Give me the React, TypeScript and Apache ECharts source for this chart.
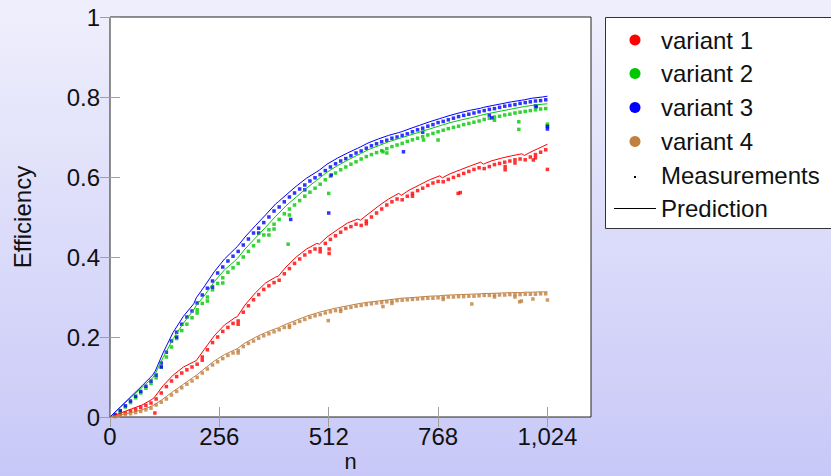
import React, { useEffect, useRef } from "react";
import * as echarts from "echarts";

const xTicks = [0, 256, 512, 768, 1024];
const yTicks = [0, 0.2, 0.4, 0.6, 0.8, 1];
const variantNames = ["variant 1", "variant 2", "variant 3", "variant 4"];
const variantColors = ["#ff0000", "#00c800", "#0000ff", "#bf8040"];
const legendExtra = ["Measurements", "Prediction"];

// prediction curves
const predN = [0,25,50,75,100,106,124,148,172,196,202,220,244,268,292,298,316,340,364,388,394,412,436,460,484,490,508,532,556,580,586,604,628,652,676,682,700,724,748,772,778,796,820,844,868,874,892,916,940,964,970,988,1012,1024];
const pred1 = [0,0.01,0.02,0.03,0.045,0.052,0.078,0.105,0.125,0.138,0.141,0.168,0.203,0.23,0.248,0.251,0.28,0.31,0.335,0.35,0.352,0.375,0.4,0.42,0.434,0.432,0.45,0.468,0.485,0.495,0.492,0.507,0.527,0.545,0.559,0.554,0.567,0.58,0.593,0.603,0.598,0.608,0.618,0.628,0.637,0.632,0.64,0.647,0.653,0.658,0.654,0.664,0.676,0.682];
const pred2 = [0,0.025,0.05,0.074,0.098,0.108,0.148,0.196,0.235,0.268,0.279,0.302,0.338,0.368,0.39,0.396,0.42,0.447,0.474,0.502,0.508,0.528,0.55,0.572,0.592,0.597,0.612,0.628,0.642,0.655,0.658,0.668,0.678,0.688,0.696,0.698,0.704,0.712,0.72,0.728,0.73,0.736,0.742,0.748,0.754,0.756,0.76,0.765,0.77,0.775,0.776,0.779,0.782,0.783];
const pred3 = [0,0.026,0.052,0.078,0.105,0.115,0.16,0.212,0.252,0.283,0.298,0.325,0.363,0.395,0.42,0.426,0.45,0.478,0.505,0.533,0.538,0.555,0.577,0.597,0.613,0.617,0.632,0.647,0.66,0.672,0.675,0.685,0.695,0.704,0.711,0.713,0.72,0.729,0.738,0.746,0.748,0.754,0.761,0.767,0.772,0.774,0.778,0.783,0.788,0.792,0.793,0.797,0.8,0.802];
const pred4 = [0,0.005,0.011,0.018,0.028,0.032,0.045,0.064,0.082,0.1,0.104,0.12,0.14,0.156,0.168,0.171,0.185,0.199,0.211,0.221,0.223,0.232,0.242,0.252,0.26,0.262,0.267,0.273,0.278,0.283,0.284,0.287,0.29,0.293,0.296,0.297,0.298,0.3,0.302,0.303,0.304,0.305,0.306,0.307,0.308,0.309,0.309,0.31,0.311,0.311,0.312,0.312,0.313,0.313];

// measurements
const measN = [12,24,36,48,60,72,84,96,108,120,132,144,156,168,180,192,204,216,228,240,252,264,276,288,300,312,324,336,348,360,372,384,396,408,420,432,444,456,468,480,492,504,516,528,540,552,564,576,588,600,612,624,636,648,660,672,684,696,708,720,732,744,756,768,780,792,804,816,828,840,852,864,876,888,900,912,924,936,948,960,972,984,996,1008,1020];
const meas1 = [0.003,0.006,0.01,0.015,0.019,0.024,0.029,0.035,0.045,0.06,0.076,0.09,0.101,0.11,0.118,0.125,0.132,0.15,0.168,0.186,0.2,0.214,0.224,0.234,0.24,0.262,0.278,0.293,0.306,0.319,0.328,0.336,0.342,0.358,0.371,0.384,0.395,0.405,0.413,0.42,0.421,0.434,0.444,0.453,0.462,0.471,0.476,0.482,0.479,0.49,0.5,0.51,0.52,0.53,0.538,0.545,0.543,0.552,0.559,0.566,0.572,0.579,0.585,0.589,0.588,0.594,0.599,0.604,0.609,0.614,0.619,0.623,0.621,0.626,0.631,0.634,0.637,0.64,0.643,0.645,0.643,0.65,0.656,0.662,0.668];
const meas2 = [0.004,0.014,0.025,0.036,0.048,0.06,0.072,0.084,0.098,0.125,0.15,0.175,0.196,0.216,0.232,0.248,0.268,0.284,0.3,0.318,0.334,0.348,0.362,0.373,0.384,0.4,0.414,0.428,0.44,0.455,0.468,0.482,0.494,0.508,0.52,0.53,0.541,0.552,0.562,0.572,0.582,0.593,0.602,0.61,0.618,0.625,0.632,0.638,0.645,0.651,0.656,0.661,0.666,0.671,0.676,0.68,0.684,0.689,0.693,0.697,0.701,0.705,0.709,0.713,0.717,0.721,0.724,0.727,0.731,0.734,0.737,0.74,0.744,0.747,0.75,0.752,0.755,0.757,0.76,0.762,0.764,0.766,0.768,0.77,0.771];
const meas3 = [0.006,0.016,0.028,0.04,0.052,0.064,0.077,0.09,0.105,0.135,0.162,0.19,0.212,0.232,0.25,0.265,0.285,0.305,0.322,0.34,0.36,0.375,0.39,0.402,0.414,0.43,0.445,0.46,0.472,0.486,0.5,0.515,0.525,0.538,0.55,0.56,0.57,0.58,0.59,0.598,0.606,0.616,0.625,0.633,0.64,0.646,0.653,0.66,0.665,0.672,0.678,0.683,0.688,0.692,0.697,0.7,0.704,0.708,0.713,0.718,0.722,0.727,0.731,0.736,0.739,0.743,0.747,0.751,0.754,0.757,0.76,0.763,0.766,0.769,0.771,0.774,0.777,0.779,0.781,0.784,0.786,0.788,0.79,0.791,0.793];
const meas4 = [0.001,0.003,0.006,0.008,0.011,0.014,0.018,0.022,0.03,0.037,0.045,0.055,0.064,0.073,0.082,0.09,0.099,0.11,0.12,0.13,0.138,0.146,0.154,0.16,0.166,0.176,0.184,0.19,0.197,0.203,0.208,0.213,0.218,0.224,0.229,0.234,0.239,0.244,0.249,0.253,0.256,0.26,0.263,0.266,0.269,0.272,0.274,0.277,0.279,0.281,0.283,0.285,0.286,0.288,0.289,0.291,0.292,0.293,0.294,0.295,0.296,0.297,0.297,0.298,0.299,0.3,0.3,0.301,0.301,0.302,0.302,0.303,0.304,0.304,0.305,0.305,0.305,0.306,0.306,0.306,0.307,0.307,0.307,0.308,0.308];

// extra (repeated / outlying) measurements
const extra1 = [[105,0.01],[216,0.142],[300,0.232],[492,0.413],[513,0.409],[513,0.42],[600,0.483],[708,0.552],[815,0.559],[820,0.561],[925,0.626],[925,0.618],[948,0.635],[991,0.6425],[996,0.648],[1024,0.619]];
const extra2 = [[204,0.26],[228,0.29],[264,0.335],[372,0.455],[384,0.47],[417,0.432],[420,0.505],[512,0.559],[639,0.663],[648,0.66],[734,0.6925],[768,0.6925],[900,0.742],[957,0.738],[957,0.719],[1024,0.728],[1024,0.732]];
const extra3 = [[120,0.125],[156,0.2],[240,0.325],[348,0.46],[423,0.494],[456,0.568],[512,0.51],[518,0.605],[687,0.663],[732,0.712],[888,0.755],[894,0.748],[996,0.778],[998,0.776],[1024,0.726],[1024,0.72]];
const extra4 = [[300,0.16],[420,0.224],[511,0.241],[540,0.264],[639,0.276],[660,0.284],[780,0.294],[847,0.2825],[900,0.3],[948,0.3],[959,0.288],[963,0.29],[990,0.295],[1024,0.2925]];

const FONT = "Liberation Sans";
const TEXT = "#111111";

export default function App() {
  const ref = useRef<HTMLDivElement>(null);
  useEffect(() => {
    if (!ref.current) return;
    const chart = echarts.init(ref.current, undefined, { renderer: "svg" });
    const preds = [pred1, pred2, pred3, pred4];
    const meas = [meas1, meas2, meas3, meas4];
    const extras = [extra1, extra2, extra3, extra4];
    const series: any[] = [];
    variantNames.forEach((name, i) => {
      series.push({
        name: name + " measurements",
        type: "scatter",
        symbol: "rect",
        symbolSize: 3.5,
        itemStyle: { color: variantColors[i] },
        data: measN.map((n, j) => [n, meas[i][j]]).concat(extras[i]),
        z: 3,
      });
      series.push({
        name: name + " prediction",
        type: "line",
        showSymbol: false,
        lineStyle: { color: variantColors[i], width: 1 },
        data: predN.map((n, j) => [n, preds[i][j]]),
        z: 4,
      });
    });

    const legendRows = [40, 73.5, 107.5, 141.5, 175, 208.5];
    const graphic: any[] = [
      {
        type: "rect",
        shape: { x: 605.5, y: 17.5, width: 240, height: 211 },
        style: { fill: "#ffffff", stroke: "#333333", lineWidth: 1 },
        z: 10,
      },
    ];
    variantNames.forEach((name, i) => {
      graphic.push({
        type: "circle",
        shape: { cx: 635, cy: legendRows[i], r: 5.5 },
        style: { fill: variantColors[i] },
        z: 11,
      });
      graphic.push({
        type: "text",
        x: 661,
        y: legendRows[i],
        style: { text: name, font: `24px "${FONT}"`, fill: TEXT, textVerticalAlign: "middle" },
        z: 11,
      });
    });
    graphic.push({
      type: "rect",
      shape: { x: 634, y: legendRows[4] + 1, width: 2, height: 2 },
      style: { fill: "#000" },
      z: 11,
    });
    graphic.push({
      type: "text",
      x: 661,
      y: legendRows[4],
      style: { text: legendExtra[0], font: `24px "${FONT}"`, fill: TEXT, textVerticalAlign: "middle" },
      z: 11,
    });
    graphic.push({
      type: "line",
      shape: { x1: 614, y1: legendRows[5], x2: 656, y2: legendRows[5] },
      style: { stroke: "#000", lineWidth: 1 },
      z: 11,
    });
    graphic.push({
      type: "text",
      x: 661,
      y: legendRows[5],
      style: { text: legendExtra[1], font: `24px "${FONT}"`, fill: TEXT, textVerticalAlign: "middle" },
      z: 11,
    });

    const tickStyle = { inside: true, length: 10, lineStyle: { color: "#a0a0a0", width: 1 } };
    const labelStyle = { fontFamily: FONT, fontSize: 24, color: TEXT };

    chart.setOption({
      animation: false,
      backgroundColor: {
        type: "linear",
        x: 0,
        y: 0,
        x2: 0,
        y2: 1,
        colorStops: [
          { offset: 0, color: "#efeffc" },
          { offset: 1, color: "#c8c8f8" },
        ],
      },
      grid: {
        left: 110,
        top: 17,
        width: 481,
        height: 400,
        show: true,
        backgroundColor: "#ffffff",
        borderColor: "#222222",
        borderWidth: 1,
        outerBoundsMode: "none",
        containLabel: false,
      },
      xAxis: [
        {
          type: "value",
          min: 0,
          max: 1126,
          axisLine: { show: false },
          splitLine: { show: false },
          axisTick: { ...tickStyle, customValues: xTicks },
          axisLabel: {
            ...labelStyle,
            margin: 7,
            customValues: xTicks,
            formatter: (v: number) => v.toLocaleString("en-US"),
          },
          name: "n",
          nameLocation: "middle",
          nameGap: 38,
          nameTextStyle: { fontFamily: "Liberation Mono", fontSize: 22, lineHeight: 14, color: TEXT },
        },
        {
          type: "value",
          position: "top",
          min: 0,
          max: 1126,
          axisLine: { show: false },
          splitLine: { show: false },
          axisTick: { ...tickStyle, customValues: xTicks },
          axisLabel: { show: false },
        },
      ],
      yAxis: [
        {
          type: "value",
          min: 0,
          max: 1,
          interval: 0.2,
          axisLine: { show: false },
          splitLine: { show: false },
          axisTick: { ...tickStyle, customValues: yTicks },
          axisLabel: { ...labelStyle, margin: 10, customValues: yTicks },
          name: "Efficiency",
          nameLocation: "middle",
          nameGap: 76,
          nameTextStyle: { fontFamily: FONT, fontSize: 24, color: TEXT },
        },
        {
          type: "value",
          position: "right",
          min: 0,
          max: 1,
          interval: 0.2,
          axisLine: { show: false },
          splitLine: { show: false },
          axisTick: { ...tickStyle, customValues: yTicks },
          axisLabel: { show: false },
        },
      ],
      series,
      graphic,
    });
    return () => chart.dispose();
  }, []);
  return (
    <div
      ref={ref}
      style={{ position: "fixed", left: 0, top: 0, width: 831, height: 476 }}
    />
  );
}
